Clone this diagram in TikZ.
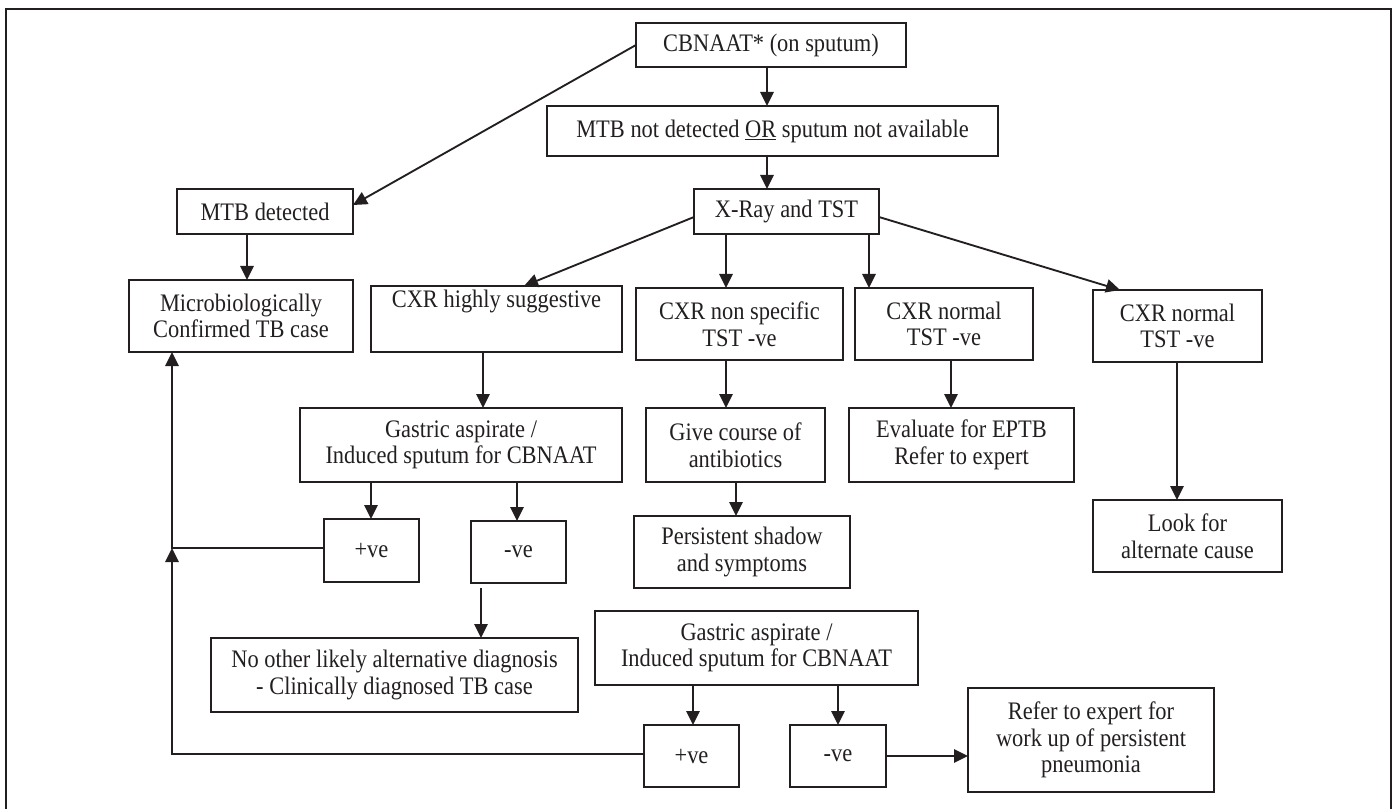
\documentclass[tikz,border=0pt]{standalone}
\usepackage{fontspec}
\setmainfont[FakeStretch=0.89]{Liberation Serif}
\usetikzlibrary{arrows.meta,calc}
\definecolor{ink}{HTML}{231F20}
\newcommand\bnode[6]{\node[box, minimum width={(#4-#2)*0.75pt}, minimum height={(#5-#3)*0.75pt}] (#1) at ({(#2+#4)/2},{(#3+#5)/2}) {#6};}
\begin{document}
\begin{tikzpicture}[x=0.75pt,y=-0.75pt,
  box/.style={draw=ink, line width=1.45pt, inner sep=0pt, outer sep=0pt, align=center, font=\fontsize{18.9}{20}\selectfont, text=ink},
  arr/.style={draw=ink, line width=1.4pt, -{Triangle[length=10.5pt,width=10pt]}},
  frame/.style={draw=ink, line width=1.8pt}]
\useasboundingbox (0,0) rectangle (1395,809);
\clip (0,0) rectangle (1395,809);
\draw[frame] (6,820) -- (6,9) -- (1391,9) -- (1391,820);

\bnode{cbnaat}{636}{23}{906}{67}{CBNAAT* (on sputum)}
\bnode{mtbnot}{547}{106}{998}{156}{MTB not detected \underline{OR} sputum not available}
\bnode{xray}{694}{189}{879}{234}{X-Ray and TST}
\bnode{mtbdet}{177}{189}{353}{234}{MTB detected}
\bnode{micro}{129}{280}{353}{352}{Microbiologically\\Confirmed TB case}
\bnode{chigh}{371}{286}{622}{352}{CXR highly suggestive\\[4pt]\strut}
\bnode{cnons}{636}{288}{843}{360}{CXR non specific\\TST -ve}
\bnode{cn1}{855}{288}{1033}{360}{CXR normal\\TST -ve}
\bnode{cn2}{1093}{290}{1262}{362}{CXR normal\\TST -ve}
\bnode{gas1}{300}{408}{622}{482}{Gastric aspirate /\\Induced sputum for CBNAAT}
\bnode{give}{646}{408}{825}{482}{Give course of\\antibiotics}
\bnode{eval}{849}{408}{1074}{482}{Evaluate for EPTB\\Refer to expert}
\bnode{look}{1093}{500}{1282}{572}{Look for\\alternate cause}
\bnode{pos1}{324}{519}{419}{582}{+ve}
\bnode{neg1}{471}{521}{566}{583}{-ve}
\bnode{pers}{634}{516}{850}{588}{Persistent shadow\\and symptoms}
\bnode{noother}{211}{638}{578}{712}{No other likely alternative diagnosis\\- Clinically diagnosed TB case}
\bnode{gas2}{595}{611}{918}{685}{Gastric aspirate /\\Induced sputum for CBNAAT}
\bnode{pos2}{644}{725}{739}{787}{+ve}
\bnode{neg2}{790}{725}{886}{787}{-ve}
\bnode{refer}{968}{688}{1214}{792}{Refer to expert for\\work up of persistent\\pneumonia}

\draw[arr] (cbnaat.south -| 767,0) -- (mtbnot.north -| 767,0);
\draw[arr] (mtbnot.south -| 767,0) -- (xray.north -| 767,0);
\draw[arr] (cbnaat.west) -- (mtbdet.east |- 0,205);
\draw[arr] (mtbdet.south -| 247,0) -- (micro.north -| 247,0);
\draw[arr] (xray.west |- 0,217) -- (chigh.north -| 524,0);
\draw[arr] (xray.south -| 726,0) -- (cnons.north -| 726,0);
\draw[arr] (xray.south -| 869,0) -- (cn1.north -| 869,0);
\draw[arr] (xray.east |- 0,217) -- (cn2.north -| 1120,0);
\draw[arr] (chigh.south -| 483,0) -- (gas1.north -| 483,0);
\draw[arr] (cnons.south -| 726,0) -- (give.north -| 726,0);
\draw[arr] (cn1.south -| 951,0) -- (eval.north -| 951,0);
\draw[arr] (cn2.south -| 1177,0) -- (look.north -| 1177,0);
\draw[arr] (gas1.south -| 371,0) -- (pos1.north -| 371,0);
\draw[arr] (gas1.south -| 517,0) -- (neg1.north -| 517,0);
\draw[arr] (give.south -| 736,0) -- (pers.north -| 736,0);
\draw[arr] ($(neg1.south -| 481,0)+(0,5)$) -- (noother.north -| 481,0);
\draw[arr] (gas2.south -| 693,0) -- (pos2.north -| 693,0);
\draw[arr] (gas2.south -| 838,0) -- (neg2.north -| 838,0);
\draw[arr] (neg2.east) -- (refer.west |- neg2.east);
\coordinate (j) at (172,548);
\draw[arr] (pos1.west |- j) -- (j) -- (micro.south -| j);
\draw[arr] (pos2.west |- 0,754) -- (j |- 0,754) -- (j);
\end{tikzpicture}
\end{document}
